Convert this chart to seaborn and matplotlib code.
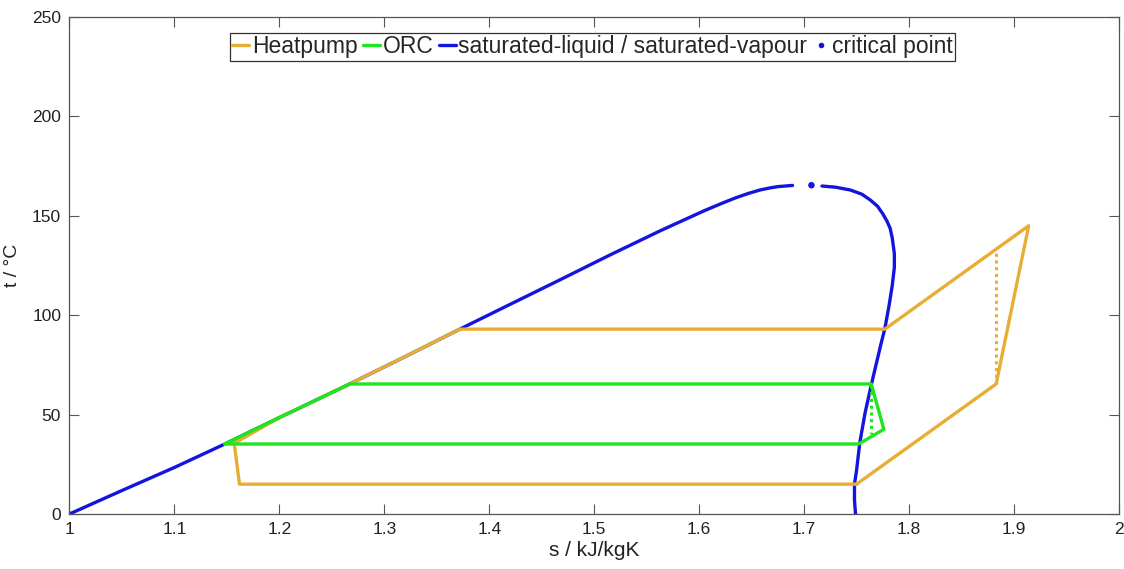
import matplotlib
matplotlib.use("Agg")
import matplotlib.pyplot as plt
import seaborn as sns
from matplotlib.lines import Line2D

# ---- data ----
# saturated liquid line
s_liq = [1.000, 1.050, 1.100, 1.148, 1.200, 1.267, 1.320, 1.372, 1.420, 1.467,
         1.515, 1.563, 1.585, 1.605, 1.623, 1.635, 1.647, 1.658, 1.667, 1.675, 1.689]
t_liq = [0.0, 11.8, 23.4, 35.2, 48.5, 65.4, 79.2, 93.0, 105.5, 117.7,
         130.3, 142.5, 147.8, 152.6, 156.6, 159.1, 161.3, 163.0, 164.0, 164.7, 165.3]
# saturated vapour line
s_vap = [1.717, 1.730, 1.744, 1.755, 1.763, 1.770, 1.775, 1.779, 1.782, 1.784,
         1.786, 1.786, 1.784, 1.781, 1.777, 1.773, 1.764, 1.758, 1.753, 1.750,
         1.748, 1.748, 1.749]
t_vap = [165.0, 164.4, 163.0, 160.9, 158.0, 154.8, 151.0, 147.3, 143.7, 138.8,
         131.0, 124.0, 115.0, 105.0, 93.4, 85.0, 64.9, 50.6, 35.6, 22.0,
         15.0, 7.0, 0.0]
# critical point
s_crit = [1.707]
t_crit = [165.4]
# heat pump cycle
s_hp = [1.750, 1.883, 1.914, 1.777, 1.372, 1.320, 1.267, 1.200, 1.157, 1.162, 1.750]
t_hp = [15.0, 65.4, 145.0, 93.0, 93.0, 79.2, 65.4, 48.5, 35.5, 15.0, 15.0]
s_hp_isen = [1.883, 1.883]
t_hp_isen = [65.4, 133.0]
# ORC cycle
s_orc = [1.148, 1.200, 1.267, 1.764, 1.776, 1.752, 1.148]
t_orc = [35.2, 48.5, 65.4, 65.4, 42.6, 35.2, 35.2]
s_orc_isen = [1.764, 1.764]
t_orc_isen = [65.0, 40.0]

x_ticks = [1, 1.1, 1.2, 1.3, 1.4, 1.5, 1.6, 1.7, 1.8, 1.9, 2]
x_ticklabels = ["1", "1.1", "1.2", "1.3", "1.4", "1.5", "1.6", "1.7", "1.8", "1.9", "2"]
y_ticks = [0, 50, 100, 150, 200, 250]

# ---- style ----
sns.set_theme(style="white")
plt.rcParams["font.family"] = ["Liberation Sans", "DejaVu Sans"]

c_hp = "#E8AE33"
c_orc = "#1EE61E"
c_sat = "#1414E0"
lw = 2.4

fig = plt.figure(figsize=(11.24, 5.69), dpi=100)
ax = fig.add_axes([0.0618, 0.0967, 0.9337, 0.8733])

sns.lineplot(x=s_liq, y=t_liq, sort=False, estimator=None, ax=ax, color=c_sat, lw=lw)
sns.lineplot(x=s_vap, y=t_vap, sort=False, estimator=None, ax=ax, color=c_sat, lw=lw)
sns.lineplot(x=s_hp, y=t_hp, sort=False, estimator=None, ax=ax, color=c_hp, lw=lw)
sns.lineplot(x=s_hp_isen, y=t_hp_isen, sort=False, estimator=None, ax=ax,
             color=c_hp, lw=2.2, linestyle=(0, (1, 1.2)))
sns.lineplot(x=s_orc, y=t_orc, sort=False, estimator=None, ax=ax, color=c_orc, lw=lw)
sns.lineplot(x=s_orc_isen, y=t_orc_isen, sort=False, estimator=None, ax=ax,
             color=c_orc, lw=2.2, linestyle=(0, (1, 1.2)))
sns.scatterplot(x=s_crit, y=t_crit, ax=ax, color=c_sat, s=22, edgecolor="none", zorder=5)

ax.set_xlim(1, 2)
ax.set_ylim(0, 250)
ax.set_xticks(x_ticks)
ax.set_xticklabels(x_ticklabels)
ax.set_yticks(y_ticks)
ax.tick_params(axis="both", which="both", direction="in", length=7, width=0.8,
               color="#555555", labelsize=12.5, labelcolor="#222222",
               top=True, right=True, bottom=True, left=True, pad=6)
for sp in ax.spines.values():
    sp.set_visible(True)
    sp.set_color("#555555")
    sp.set_linewidth(0.9)

ax.set_xlabel("s / kJ/kgK", fontsize=15, color="#222222", labelpad=3)
ax.set_ylabel("t / °C", fontsize=14, color="#222222", labelpad=8)

handles = [
    Line2D([], [], color=c_hp, lw=lw),
    Line2D([], [], color=c_orc, lw=lw),
    Line2D([], [], color=c_sat, lw=lw),
    Line2D([], [], color=c_sat, lw=0, marker=".", markersize=6),
]
labels = ["Heatpump", "ORC", "saturated-liquid / saturated-vapour", "critical point"]
leg = ax.legend(handles, labels, loc="upper center", bbox_to_anchor=(0.4985, 0.968),
                ncol=4, fontsize=16.5, frameon=True, fancybox=False,
                handlelength=0.75, handletextpad=0.12, columnspacing=0.22,
                borderpad=0.1, borderaxespad=0.0)
leg.get_frame().set_edgecolor("#000000")
leg.get_frame().set_linewidth(0.9)

fig.savefig("out.png", dpi=100, facecolor="white")
